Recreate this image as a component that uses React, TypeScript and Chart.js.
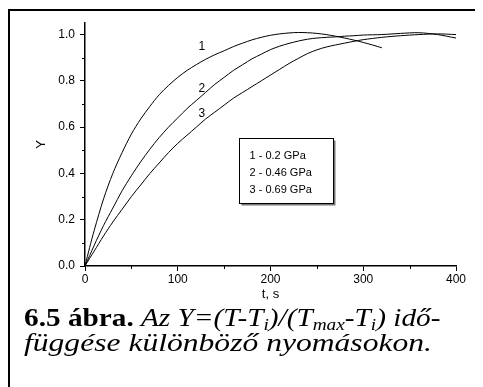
import React, { useEffect, useRef } from "react";
import { Chart, registerables } from "chart.js";

Chart.register(...registerables);

// time (s) and normalised temperature Y for each pressure
const time1 = [0, 5, 10, 20, 30, 40, 50, 60, 70, 80, 90, 100, 110, 120, 130, 140, 150, 160, 170, 180, 190, 200, 210, 220, 230, 240, 250, 260, 270, 280, 290, 300, 310, 320];
const y1 = [0, 0.08, 0.155, 0.29, 0.4, 0.49, 0.57, 0.635, 0.69, 0.74, 0.78, 0.815, 0.845, 0.87, 0.893, 0.913, 0.93, 0.948, 0.963, 0.977, 0.988, 0.997, 1.003, 1.007, 1.009, 1.008, 1.005, 1.0, 0.993, 0.985, 0.976, 0.966, 0.955, 0.943];

const time2 = [0, 5, 10, 20, 30, 40, 50, 60, 70, 80, 90, 100, 110, 120, 130, 140, 150, 160, 170, 180, 190, 200, 210, 220, 230, 240, 250, 260, 270, 280, 290, 300, 320, 340, 360, 380, 400];
const y2 = [0, 0.045, 0.09, 0.175, 0.25, 0.325, 0.39, 0.45, 0.505, 0.555, 0.6, 0.64, 0.68, 0.715, 0.75, 0.785, 0.815, 0.845, 0.87, 0.895, 0.915, 0.935, 0.95, 0.962, 0.972, 0.98, 0.985, 0.988, 0.99, 0.993, 0.995, 0.998, 1.0, 1.005, 1.008, 1.0, 0.985];

const time3 = [0, 5, 10, 20, 30, 40, 50, 60, 70, 80, 90, 100, 110, 120, 130, 140, 150, 160, 170, 180, 190, 200, 210, 220, 230, 240, 250, 260, 270, 280, 290, 300, 320, 340, 360, 380, 400];
const y3 = [0, 0.033, 0.065, 0.13, 0.19, 0.245, 0.3, 0.35, 0.4, 0.445, 0.49, 0.53, 0.565, 0.6, 0.635, 0.665, 0.695, 0.725, 0.75, 0.775, 0.8, 0.825, 0.85, 0.875, 0.897, 0.918, 0.934, 0.946, 0.955, 0.963, 0.971, 0.978, 0.988, 0.995, 1.0, 1.003, 1.0];

// curve numbers placed beside the curves (t, Y)
const curveNames = ["1", "2", "3"];
const curveNameX = [126, 126, 126];
const curveNameY = [0.948, 0.766, 0.658];

const legendLines = ["1 - 0.2 GPa", "2 - 0.46 GPa", "3 - 0.69 GPa"];

const xMinorTicks = [50, 150, 250, 350];
const yMinorTicks = [0.1, 0.3, 0.5, 0.7, 0.9];

const SANS = "'Liberation Sans', Arial, sans-serif";

const toPoints = (xs: number[], ys: number[]) => xs.map((x, i) => ({ x, y: ys[i] }));

const decorations = {
  id: "decorations",
  afterDraw(chart: any) {
    const { ctx, chartArea, scales } = chart;
    const xs = scales.x;
    const ys = scales.y;
    ctx.save();
    ctx.strokeStyle = "#000";
    ctx.lineWidth = 1;
    // minor ticks, pointing outward
    ctx.beginPath();
    xMinorTicks.forEach((v) => {
      const px = Math.round(xs.getPixelForValue(v)) + 0.5;
      ctx.moveTo(px, chartArea.bottom);
      ctx.lineTo(px, chartArea.bottom + 3);
    });
    yMinorTicks.forEach((v) => {
      const py = Math.round(ys.getPixelForValue(v)) + 0.5;
      ctx.moveTo(chartArea.left, py);
      ctx.lineTo(chartArea.left - 3, py);
    });
    ctx.stroke();

    // curve numbers
    ctx.fillStyle = "#000";
    ctx.font = `12px ${SANS}`;
    ctx.textAlign = "center";
    ctx.textBaseline = "middle";
    curveNames.forEach((n, i) => {
      ctx.fillText(n, xs.getPixelForValue(curveNameX[i]), ys.getPixelForValue(curveNameY[i]));
    });

    // legend box with drop shadow
    const bx = Math.round(xs.getPixelForValue(166)) + 0.5;
    const by = Math.round(ys.getPixelForValue(0.554)) + 0.5;
    const bw = 94;
    const bh = 65;
    ctx.fillStyle = "#777";
    ctx.fillRect(bx + 2, by + 2, bw, bh);
    ctx.fillStyle = "#fff";
    ctx.fillRect(bx, by, bw, bh);
    ctx.strokeRect(bx, by, bw, bh);
    ctx.fillStyle = "#000";
    ctx.font = `11px ${SANS}`;
    ctx.textAlign = "left";
    legendLines.forEach((t, i) => {
      ctx.fillText(t, bx + 10, by + 17 + i * 17);
    });
    ctx.restore();
  },
};

function App() {
  const ref = useRef<HTMLCanvasElement>(null);

  useEffect(() => {
    if (!ref.current) return;
    const line = { borderColor: "#000", borderWidth: 1, pointRadius: 0, showLine: true, tension: 0.3, fill: false };
    const chart = new Chart(ref.current, {
      type: "scatter",
      data: {
        datasets: [
          { data: toPoints(time1, y1), ...line },
          { data: toPoints(time2, y2), ...line },
          { data: toPoints(time3, y3), ...line },
        ],
      },
      options: {
        animation: false,
        responsive: false,
        events: [],
        layout: { padding: { top: 13, right: 19, left: 0, bottom: 0 } },
        plugins: { legend: { display: false }, tooltip: { enabled: false } },
        scales: {
          x: {
            type: "linear",
            min: 0,
            max: 400,
            afterFit: (s: any) => {
              s.height = 44;
            },
            ticks: {
              stepSize: 100,
              color: "#000",
              padding: 1,
              maxRotation: 0,
              font: { family: SANS, size: 12 },
            },
            grid: { drawOnChartArea: false, tickLength: 5, tickColor: "#000", tickWidth: 1 },
            border: { display: true, color: "#000", width: 1.5 },
            title: {
              display: true,
              text: "t, s",
              color: "#000",
              font: { family: SANS, size: 13 },
              padding: { top: 0, bottom: 8 },
            },
          },
          y: {
            type: "linear",
            min: 0,
            max: 1.05,
            afterFit: (s: any) => {
              s.width = 75;
            },
            ticks: {
              stepSize: 0.2,
              includeBounds: false,
              color: "#000",
              padding: 5,
              font: { family: SANS, size: 12 },
              callback: (v: any) => Number(v).toFixed(1),
            },
            grid: { drawOnChartArea: false, tickLength: 5, tickColor: "#000", tickWidth: 1 },
            border: { display: true, color: "#000", width: 1.5 },
            title: {
              display: true,
              text: "Y",
              color: "#000",
              font: { family: SANS, size: 13 },
              padding: { top: 24, bottom: 0 },
            },
          },
        },
      },
      plugins: [decorations],
    });
    return () => chart.destroy();
  }, []);

  const sub: React.CSSProperties = { fontSize: "0.66em", verticalAlign: "-0.25em", lineHeight: 0 };
  const captionLine: React.CSSProperties = { transformOrigin: "0 0", whiteSpace: "nowrap" };

  return (
    <div
      style={{
        position: "relative",
        marginTop: 1,
        width: 490,
        height: 390,
        borderTop: "2px solid #000",
        borderLeft: "2px solid #000",
        boxSizing: "border-box",
        background: "#fff",
      }}
    >
      <canvas ref={ref} width={465} height={300} style={{ position: "absolute", left: 0, top: -1, width: 465, height: 300 }} />
      <div
        style={{
          position: "absolute",
          left: 14,
          top: 294,
          fontFamily: "'Liberation Serif', 'Times New Roman', serif",
          fontSize: 26,
          lineHeight: "25px",
          color: "#000",
        }}
      >
        <div style={{ ...captionLine, transform: "scaleX(1.125)" }}>
          <b>6.5 ábra.</b>{" "}
          <i>
            Az Y=(T-T<sub style={sub}>i</sub>)/(T<sub style={sub}>max</sub>-T<sub style={sub}>i</sub>) idő-
          </i>
        </div>
        <div style={{ ...captionLine, transform: "scaleX(1.215)" }}>
          <i>függése különböző nyomásokon.</i>
        </div>
      </div>
    </div>
  );
}

export default App;
